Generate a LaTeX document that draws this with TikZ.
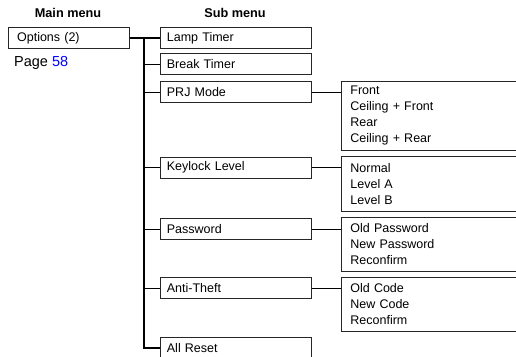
\documentclass[tikz,border=0pt]{standalone}
\usepackage{fontspec}
\setmainfont{Liberation Sans}
\begin{document}
\begin{tikzpicture}[x=1pt,y=-1pt,
  every node/.style={font=\fontsize{12.5}{16}\selectfont},
  box/.style={draw=black!85,line width=0.8pt,anchor=north west,align=left,inner ysep=0pt},
  mainbox/.style={box,text width=103.6pt,inner xsep=8.7pt,minimum height=21pt},
  subbox/.style={box,text width=138pt,inner xsep=6.5pt,minimum height=21pt},
  optbox/.style={box,text width=165pt,inner xsep=9pt},
  link/.style={draw=black,line width=0.8pt},
  trunk/.style={draw=black,line width=1.3pt},
  title/.style={font=\fontsize{12.7}{16}\selectfont\bfseries,anchor=base}]
\useasboundingbox (0,0) rectangle (516,356);
\clip (0,0) rectangle (516,356);
\node[title] (tmain) at (68,17) {Main menu};
\node[title] (tsub) at (235,17) {Sub menu};
\node[mainbox] (opt) at (8,27) {Options (2)};
\node[anchor=base west,inner sep=0pt,font=\fontsize{14.5}{17}\selectfont] (page) at (14,66.5) {Page \textcolor{blue}{58}};
\node[subbox] (lamp) at (160,27) {Lamp Timer};
\node[subbox] (brk) at (160,53) {Break Timer};
\node[subbox] (prj) at (160,81) {PRJ Mode};
\node[subbox] (key) at (160,156.5) {Keylock Level};
\node[subbox] (pwd) at (160,218) {Password};
\node[subbox] (anti) at (160,277) {Anti-Theft};
\node[subbox] (reset) at (160,337) {All Reset};
\node[optbox,minimum height=69pt] (prjopt) at (341,81) {Front\\Ceiling + Front\\Rear\\Ceiling + Rear};
\node[optbox,minimum height=54.5pt] (keyopt) at (341,156.3) {Normal\\Level A\\Level B};
\node[optbox,minimum height=54.5pt] (pwdopt) at (341,216.7) {Old Password\\New Password\\Reconfirm};
\node[optbox,minimum height=54pt] (antiopt) at (341,277) {Old Code\\New Code\\Reconfirm};
\coordinate (ttop) at (144,37.5);
\path[trunk] (opt.east) -- (lamp.west);
\path[trunk] (ttop) |- (reset.west);
\foreach \n in {brk,prj,key,pwd,anti}
  \path[link] (\n.west -| ttop) -- (\n.west);
\path[link] (prj.east) -- (prj.east -| prjopt.west);
\path[link] (key.east) -- (key.east -| keyopt.west);
\path[link] (pwd.east) -- (pwd.east -| pwdopt.west);
\path[link] (anti.east) -- (anti.east -| antiopt.west);
\end{tikzpicture}
\end{document}
